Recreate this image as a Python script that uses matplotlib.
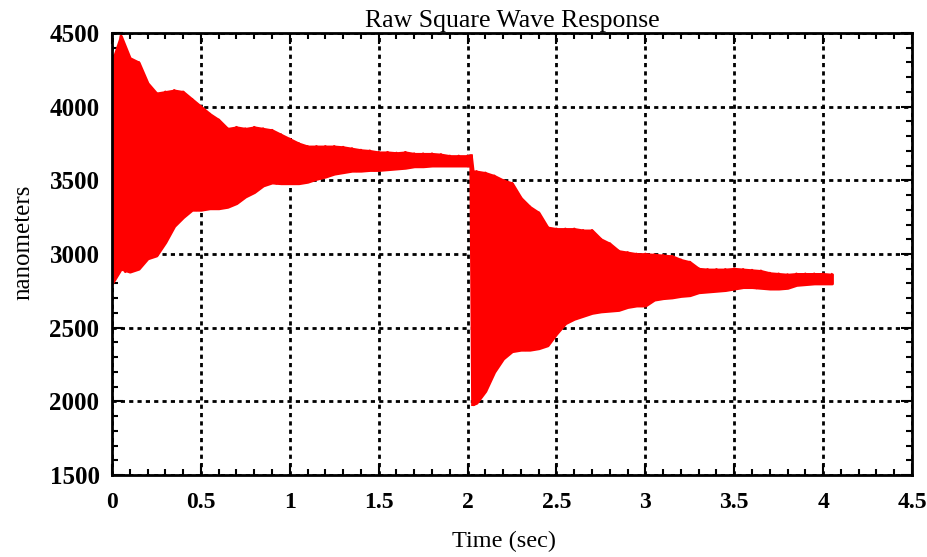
import numpy as np
import matplotlib
matplotlib.use("Agg")
import matplotlib.pyplot as plt
from matplotlib.ticker import MultipleLocator

# ---- data (envelope of the oscillating response) ----
t1 = [0.00, 0.05, 0.10, 0.15, 0.20, 0.25, 0.30, 0.35, 0.40, 0.45, 0.50, 0.55, 0.60,
      0.65, 0.70, 0.75, 0.80, 0.85, 0.90, 0.95, 1.00, 1.05, 1.10, 1.15, 1.20, 1.25,
      1.30, 1.35, 1.40, 1.45, 1.50, 1.55, 1.60, 1.65, 1.70, 1.75, 1.80, 1.85, 1.90,
      1.95, 2.00, 2.02]
upper1 = [4300, 4480, 4330, 4300, 4160, 4090, 4100, 4110, 4100, 4050, 4000, 3950, 3910,
          3850, 3860, 3850, 3860, 3850, 3840, 3810, 3780, 3750, 3730, 3730, 3730, 3730,
          3725, 3715, 3705, 3700, 3690, 3690, 3685, 3690, 3680, 3680, 3680, 3675, 3665,
          3665, 3665, 3665]
lower1 = [2800, 2900, 2880, 2900, 2970, 2990, 3080, 3190, 3250, 3300, 3300, 3310, 3310,
          3320, 3345, 3390, 3420, 3465, 3485, 3480, 3480, 3480, 3490, 3510, 3525, 3545,
          3555, 3565, 3565, 3570, 3570, 3575, 3580, 3585, 3595, 3595, 3600, 3600, 3600,
          3600, 3600, 3600]

t2 = [2.03, 2.05, 2.10, 2.15, 2.20, 2.25, 2.30, 2.35, 2.40, 2.45, 2.50, 2.55, 2.60,
      2.65, 2.70, 2.75, 2.80, 2.85, 2.90, 2.95, 3.00, 3.05, 3.10, 3.15, 3.20, 3.25,
      3.30, 3.35, 3.40, 3.45, 3.50, 3.55, 3.60, 3.65, 3.70, 3.75, 3.80, 3.85, 3.90,
      3.95, 4.00, 4.05]
upper2 = [3560, 3560, 3550, 3530, 3500, 3480, 3380, 3320, 3280, 3180, 3170, 3170, 3170,
          3160, 3160, 3100, 3070, 3020, 3010, 3000, 3000, 2995, 2990, 2985, 2960, 2945,
          2900, 2895, 2895, 2895, 2900, 2895, 2890, 2885, 2870, 2865, 2860, 2865, 2865,
          2865, 2865, 2860]
lower2 = [1980, 1990, 2070, 2200, 2290, 2340, 2350, 2350, 2360, 2380, 2460, 2530, 2560,
          2580, 2600, 2610, 2615, 2620, 2640, 2650, 2650, 2690, 2700, 2705, 2715, 2720,
          2740, 2745, 2750, 2755, 2765, 2775, 2775, 2770, 2765, 2765, 2770, 2790, 2795,
          2800, 2800, 2800]

title = "Raw Square Wave Response"
xlabel = "Time (sec)"
ylabel = "nanometers"
xticks = [0, 0.5, 1, 1.5, 2, 2.5, 3, 3.5, 4, 4.5]
xticklabels = ["0", "0.5", "1", "1.5", "2", "2.5", "3", "3.5", "4", "4.5"]
yticks = [1500, 2000, 2500, 3000, 3500, 4000, 4500]

RED = "#ff0000"
SERIF = ["Liberation Serif", "DejaVu Serif"]

fig = plt.figure(figsize=(9.27, 5.57), dpi=100)
ax = fig.add_axes([112 / 927, 1 - 475 / 557, 800 / 927, 442 / 557])

for t, up, lo in [(t1, upper1, lower1), (t2, upper2, lower2)]:
    t = np.asarray(t)
    up = np.asarray(up)
    lo = np.asarray(lo)
    ax.fill_between(t, lo, up, color=RED, linewidth=2, edgecolor=RED, zorder=3)
    # zig-zag between envelope values to give the oscillation texture
    zx = np.empty(2 * len(t) - 1)
    zy = np.empty(2 * len(t) - 1)
    zx[0::2] = t
    zx[1::2] = (t[:-1] + t[1:]) / 2
    zy[0::2] = up
    zy[1::2] = lo[1:]
    ax.plot(zx, zy, color=RED, lw=2, zorder=3)

# vertical drop at the step
ax.plot([t1[-1], t2[0]], [lower1[-1], lower2[0]], color=RED, lw=2.5, zorder=3)
ax.plot([t1[-1], t2[0]], [upper1[-1], upper2[0]], color=RED, lw=2.5, zorder=3)

ax.set_xlim(0, 4.5)
ax.set_ylim(1500, 4500)
ax.set_xticks(xticks)
ax.set_xticklabels(xticklabels)
ax.set_yticks(yticks)
ax.xaxis.set_minor_locator(MultipleLocator(0.1))
ax.yaxis.set_minor_locator(MultipleLocator(100))

ax.grid(True, which="major", color="black", linestyle=(0, (1.5, 1.5)), linewidth=2, zorder=1)
ax.set_axisbelow(True)

ax.tick_params(which="both", direction="in", top=True, right=True, width=1.5, color="black")
ax.tick_params(which="major", length=8)
ax.tick_params(which="minor", length=4)
ax.tick_params(axis="x", which="major", pad=12)
ax.tick_params(axis="y", which="major", pad=9)
for s in ax.spines.values():
    s.set_linewidth(2)
    s.set_zorder(5)

for lab in ax.get_yticklabels():
    lab.set_fontfamily(SERIF)
    lab.set_fontweight("bold")
    lab.set_fontsize(18)
for lab in ax.get_xticklabels():
    lab.set_fontfamily(SERIF)
    lab.set_fontweight("bold")
    lab.set_fontsize(17)

ax.set_title(title, family=SERIF, fontsize=18.5, pad=4)
ax.set_xlabel(xlabel, family=SERIF, fontsize=17.5, labelpad=13)
ax.set_ylabel(ylabel, family=SERIF, fontsize=18, labelpad=11)
ax.yaxis.label.set_y(0.527)
ax.xaxis.label.set_x(0.49)

fig.savefig("out.png", dpi=100)
